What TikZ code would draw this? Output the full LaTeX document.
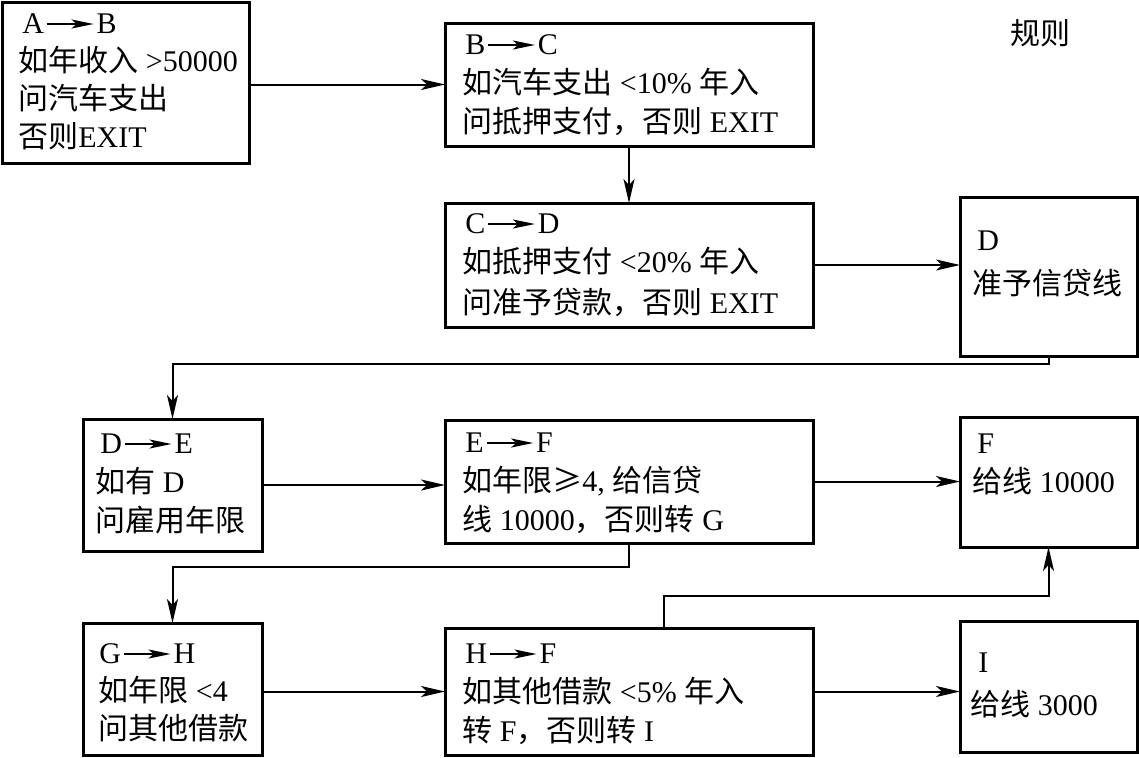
\documentclass[tikz,border=0pt]{standalone}
\usepackage{fontspec}
\setmainfont{Liberation Serif}
\newfontfamily\cjk{Noto Sans CJK SC}
\usetikzlibrary{arrows.meta,fit}
\newcommand\zh[1]{{\cjk #1}}
\newcommand\tarr{\hspace{1pt}\tikz[baseline=0pt]\draw[line width=1pt,-{Stealth[length=11pt,width=4.5pt,inset=2.5pt]}] (0,0.3em) -- (1.55em,0.3em);\hspace{1pt}}
\newcommand\lines[1]{\begin{tabular}[t]{@{}l@{}}#1\end{tabular}}
\tikzset{
  box/.style={draw, line width=1.5pt, inner sep=0pt, outer sep=0pt},
  conn/.style={draw, line width=1pt, -{Stealth[length=12pt,width=5.5pt,inset=3pt]}},
  txt/.style={anchor=base west, inner sep=0pt, font=\fontsize{15}{19.5}\selectfont},
}
\begin{document}
\begin{tikzpicture}[x=0.5pt,y=-0.5pt]
\useasboundingbox (0,0) rectangle (1139,757);
% boxes
\node[box, fit={(2,2)(249,163)}] (A) {};
\node[box, fit={(445,23)(813,146)}] (B) {};
\node[box, fit={(445,203)(813,327)}] (C) {};
\node[box, fit={(960,197)(1137,356)}] (D) {};
\node[box, fit={(83,419)(262,551)}] (DE) {};
\node[box, fit={(445,420)(813,543)}] (EF) {};
\node[box, fit={(960,417)(1137,547)}] (F) {};
\node[box, fit={(83,623)(262,755)}] (GH) {};
\node[box, fit={(445,628)(813,755)}] (HF) {};
\node[box, fit={(960,621)(1137,752)}] (I) {};
% texts
\node[txt] (tA) at (18,33) {\lines{\hspace{2pt}A\tarr B\\[-0.5pt] \zh{如年收入} >50000\\[-0.5pt] \zh{问汽车支出}\\[-0.5pt] \zh{否则}EXIT}};
\node[txt] (tB) at (462,54) {\lines{\hspace{1.5pt}B\tarr C\\ \zh{如汽车支出} <10\% \zh{年入}\\ \zh{问抵押支付，否则} EXIT}};
\node[txt] (tC) at (462,233) {\lines{\hspace{1.5pt}C\tarr D\\ \zh{如抵押支付} <20\% \zh{年入}\\[1pt] \zh{问准予贷款，否则} EXIT}};
\node[txt] (tD) at (972,250) {\lines{\hspace{2.5pt}D\\[2.5pt] \zh{准予信贷线}}};
\node[txt] (tDE) at (95,453) {\lines{\hspace{2.5pt}D\tarr E\\ \zh{如有} D\\ \zh{问雇用年限}}};
\node[txt] (tEF) at (462,452) {\lines{\hspace{1.5pt}E\tarr F\\ \zh{如年限≥}4, \zh{给信贷}\\ \zh{线} 10000\zh{，否则转} G}};
\node[txt] (tF) at (972,453) {\lines{\hspace{2.5pt}F\\ \zh{给线} 10000}};
\node[txt] (tGH) at (98,663) {\lines{\hspace{0.5pt}G\tarr H\\[-0.5pt] \zh{如年限} <4\\[-0.5pt] \zh{问其他借款}}};
\node[txt] (tHF) at (462,663) {\lines{\hspace{1.5pt}H\tarr F\\ \zh{如其他借款} <5\% \zh{年入}\\ \zh{转} F\zh{，否则转} I}};
\node[txt] (tI) at (970,672) {\lines{\hspace{4pt}I\\[2pt] \zh{给线} 3000}};
\node[txt] (rule) at (1010,44) {\zh{规则}};
% connectors
\draw[conn] (B.west -| A.east) -- (B.west);
\draw[conn] (B.south) -- (C.north);
\draw[conn] (C.east) -- (C.east -| D.west);
\draw[conn] (D.south) -- (D.south |- 0,364) -| (DE.north);
\draw[conn] (DE.east) -- (DE.east -| EF.west);
\draw[conn] (EF.east) -- (EF.east -| F.west);
\draw[conn] (EF.south) -- (EF.south |- 0,567) -| (GH.north);
\draw[conn] (HF.west -| GH.east) -- (HF.west);
\draw[conn] (HF.east) -- (HF.east -| I.west);
\draw[conn] (HF.north -| 664,0) -- (664,596) -| (F.south);
\end{tikzpicture}
\end{document}
